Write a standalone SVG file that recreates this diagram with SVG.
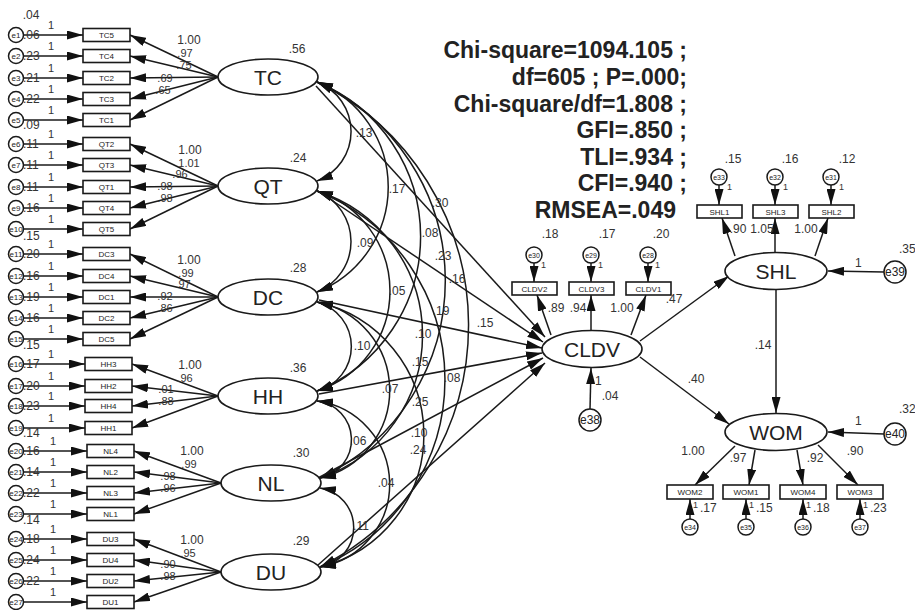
<svg xmlns="http://www.w3.org/2000/svg" width="915" height="610" viewBox="0 0 915 610">
<defs>
<marker id="ah" viewBox="0 0 16 9" refX="16" refY="4.5" markerWidth="16" markerHeight="9" markerUnits="userSpaceOnUse" orient="auto-start-reverse"><path d="M0,0 L16,4.5 L0,9 z" fill="#111"/></marker>
<style>
.c{stroke:#1a1a1a;stroke-width:1.5;fill:none;marker-end:url(#ah)}
.cv{stroke:#1a1a1a;stroke-width:1.5;fill:none;marker-start:url(#ah);marker-end:url(#ah)}
.box{fill:#fff;stroke:#1a1a1a;stroke-width:1.6}
.lat{fill:#fff;stroke:#1a1a1a;stroke-width:1.6}
.err{fill:#fff;stroke:#1a1a1a;stroke-width:1.5}
text{font-family:"Liberation Sans",Arial,sans-serif}
.bt{font-size:8px;text-anchor:middle;fill:#222}
.et{font-size:8px;text-anchor:middle;fill:#222}
.et2{font-size:7px;text-anchor:middle;fill:#222}
.eb{font-size:12px;text-anchor:middle;fill:#222}
.lt{font-size:21px;text-anchor:middle;fill:#222}
.p{font-size:12px;text-anchor:middle;fill:#333}
.pl{font-size:11px;text-anchor:middle;fill:#333}
.ps{font-size:12px;fill:#333}
.one{font-size:11px;text-anchor:middle;fill:#333}
.one8{font-size:9px;fill:#333}
.fit{font-size:23px;font-weight:bold;text-anchor:end;fill:#222}
</style>
</defs>
<rect width="915" height="610" fill="#fff"/>

<g id="connectors">
<path class="c" d="M23.5,35 L83,35"/><path class="c" d="M23.5,56 L83,56"/><path class="c" d="M23.5,78 L83,78"/><path class="c" d="M23.5,99 L83,99"/><path class="c" d="M23.5,120 L83,120"/>
<path class="c" d="M23.5,144 L83,144"/><path class="c" d="M23.5,165 L83,165"/><path class="c" d="M23.5,187 L83,187"/><path class="c" d="M23.5,208 L83,208"/><path class="c" d="M23.5,229 L83,229"/>
<path class="c" d="M23.5,254 L83,254"/><path class="c" d="M23.5,276 L83,276"/><path class="c" d="M23.5,297 L83,297"/><path class="c" d="M23.5,318 L83,318"/><path class="c" d="M23.5,339 L83,339"/>
<path class="c" d="M23.5,364 L85,364"/><path class="c" d="M23.5,386 L85,386"/><path class="c" d="M23.5,406 L85,406"/><path class="c" d="M23.5,428 L85,428"/>
<path class="c" d="M23.5,451 L87,451"/><path class="c" d="M23.5,472 L87,472"/><path class="c" d="M23.5,493 L87,493"/><path class="c" d="M23.5,514 L87,514"/>
<path class="c" d="M23.5,539 L87,539"/><path class="c" d="M23.5,560 L87,560"/><path class="c" d="M23.5,581 L87,581"/><path class="c" d="M23.5,602 L87,602"/>
<path class="c" d="M218,77 L130,35"/><path class="c" d="M218,77 L130,56"/><path class="c" d="M218,77 L130,78"/><path class="c" d="M218,77 L130,99"/><path class="c" d="M218,77 L130,120"/>
<path class="c" d="M218,186 L130,144"/><path class="c" d="M218,186 L130,165"/><path class="c" d="M218,186 L130,187"/><path class="c" d="M218,186 L130,208"/><path class="c" d="M218,186 L130,229"/>
<path class="c" d="M218,297 L130,254"/><path class="c" d="M218,297 L130,276"/><path class="c" d="M218,297 L130,297"/><path class="c" d="M218,297 L130,318"/><path class="c" d="M218,297 L130,339"/>
<path class="c" d="M218,396 L132,364"/><path class="c" d="M218,396 L132,386"/><path class="c" d="M218,396 L132,406"/><path class="c" d="M218,396 L132,428"/>
<path class="c" d="M221,483 L134,451"/><path class="c" d="M221,483 L134,472"/><path class="c" d="M221,483 L134,493"/><path class="c" d="M221,483 L134,514"/>
<path class="c" d="M221,572 L134,539"/><path class="c" d="M221,572 L134,560"/><path class="c" d="M221,572 L134,581"/><path class="c" d="M221,572 L134,602"/>
<path class="cv" d="M317,82 A53,53 0 0 1 317,181"/>
<path class="cv" d="M317,191 A54.5,54.5 0 0 1 317,292"/>
<path class="cv" d="M317,302 A46,46 0 0 1 317,391"/>
<path class="cv" d="M317,401 A39,39 0 0 1 320,478"/>
<path class="cv" d="M320,488 A40,40 0 0 1 320,567"/>
<path class="cv" d="M317,82 A113,113 0 0 1 317,292"/>
<path class="cv" d="M317,191 A105,105 0 0 1 317,391"/>
<path class="cv" d="M317,302 A90,90 0 0 1 320,478"/>
<path class="cv" d="M317,401 A84,84 0 0 1 320,567"/>
<path class="cv" d="M317,82 A167,167 0 0 1 317,391"/>
<path class="cv" d="M317,191 A151,151 0 0 1 320,478"/>
<path class="cv" d="M317,302 A136,136 0 0 1 320,567"/>
<path class="cv" d="M317,82 A218,218 0 0 1 320,478"/>
<path class="cv" d="M317,191 A203,203 0 0 1 320,567"/>
<path class="cv" d="M317,82 A271,271 0 0 1 320,567"/>
<path class="c" d="M316,86 L545,337"/>
<path class="c" d="M318,191 L543,342"/>
<path class="c" d="M319,300 L542,348"/>
<path class="c" d="M319,394 L542,353"/>
<path class="c" d="M318,478 L543,358"/>
<path class="c" d="M318,565 L545,363"/>
<path class="c" d="M551,335 L537,295"/>
<path class="c" d="M591,330 L591,295"/>
<path class="c" d="M631,335 L646,295"/>
<path class="c" d="M534,263 L534,282"/>
<path class="c" d="M591,263 L591,282"/>
<path class="c" d="M648,263 L648,282"/>
<path class="c" d="M590,409 L591,368"/>
<path class="c" d="M640,341 L729,276"/>
<path class="c" d="M640,357 L729,424"/>
<path class="c" d="M776,290 L776,413"/>
<path class="c" d="M884,272 L828,271"/>
<path class="c" d="M884,434 L828,432"/>
<path class="c" d="M735,256 L722,218"/>
<path class="c" d="M775,252.5 L775,218"/>
<path class="c" d="M815,256 L828,218"/>
<path class="c" d="M719,185 L719,205"/>
<path class="c" d="M775,185 L775,205"/>
<path class="c" d="M831,185 L831,205"/>
<path class="c" d="M735,446 L695,485"/>
<path class="c" d="M755,450 L749,485"/>
<path class="c" d="M797,450 L803,485"/>
<path class="c" d="M818,445 L858,485"/>
<path class="c" d="M690,519 L690,499"/>
<path class="c" d="M746,519 L746,499"/>
<path class="c" d="M803,519 L803,499"/>
<path class="c" d="M860,519 L860,499"/>
</g>

<g id="labels">
<text class="ps" x="31" y="19" text-anchor="middle">.04</text>
<text class="ps" x="23" y="39">.06</text><text class="ps" x="23" y="60">.23</text><text class="ps" x="23" y="82">.21</text><text class="ps" x="23" y="103">.22</text><text class="ps" x="23" y="129">.09</text>
<text class="ps" x="23" y="148">.11</text><text class="ps" x="23" y="169">.11</text><text class="ps" x="23" y="191">.11</text><text class="ps" x="23" y="212">.16</text><text class="ps" x="23" y="240">.15</text>
<text class="ps" x="23" y="258">.20</text><text class="ps" x="23" y="280">.16</text><text class="ps" x="23" y="301">.19</text><text class="ps" x="23" y="322">.16</text><text class="ps" x="23" y="349">.15</text>
<text class="ps" x="23" y="368">.17</text><text class="ps" x="23" y="390">.20</text><text class="ps" x="23" y="410">.23</text><text class="ps" x="23" y="437">.14</text>
<text class="ps" x="23" y="455">.16</text><text class="ps" x="23" y="476">.14</text><text class="ps" x="23" y="497">.22</text><text class="ps" x="23" y="524">.14</text>
<text class="ps" x="23" y="543">.18</text><text class="ps" x="23" y="564">.24</text><text class="ps" x="23" y="585">.22</text>
<text class="one" x="51" y="29">1</text><text class="one" x="51" y="50">1</text><text class="one" x="51" y="72">1</text><text class="one" x="51" y="93">1</text><text class="one" x="51" y="114">1</text>
<text class="one" x="51" y="138">1</text><text class="one" x="51" y="159">1</text><text class="one" x="51" y="181">1</text><text class="one" x="51" y="202">1</text><text class="one" x="51" y="223">1</text>
<text class="one" x="51" y="248">1</text><text class="one" x="51" y="270">1</text><text class="one" x="51" y="291">1</text><text class="one" x="51" y="312">1</text><text class="one" x="51" y="333">1</text>
<text class="one" x="51" y="358">1</text><text class="one" x="51" y="380">1</text><text class="one" x="51" y="400">1</text><text class="one" x="51" y="422">1</text>
<text class="one" x="53" y="445">1</text><text class="one" x="53" y="466">1</text><text class="one" x="53" y="487">1</text><text class="one" x="53" y="508">1</text>
<text class="one" x="53" y="533">1</text><text class="one" x="53" y="554">1</text><text class="one" x="53" y="575">1</text><text class="one" x="53" y="596">1</text>
<text class="p" x="189" y="44">1.00</text><text class="pl" x="185" y="57">.97</text><text class="pl" x="184" y="69">.75</text><text class="pl" x="165" y="82">.69</text><text class="pl" x="163" y="94">.65</text>
<text class="p" x="190" y="154">1.00</text><text class="pl" x="189" y="167">1.01</text><text class="pl" x="180" y="178">.96</text><text class="pl" x="165" y="190">.98</text><text class="pl" x="165" y="202">.98</text>
<text class="p" x="189" y="264">1.00</text><text class="pl" x="186" y="277">.99</text><text class="pl" x="183" y="288">.97</text><text class="pl" x="165" y="300">.92</text><text class="pl" x="165" y="312">.86</text>
<text class="p" x="190" y="369">1.00</text><text class="pl" x="185" y="382">.96</text><text class="pl" x="166" y="393">.01</text><text class="pl" x="166" y="405">.88</text>
<text class="p" x="192" y="455">1.00</text><text class="pl" x="189" y="468">.99</text><text class="pl" x="168" y="480">.98</text><text class="pl" x="168" y="492">.96</text>
<text class="p" x="192" y="544">1.00</text><text class="pl" x="188" y="557">.95</text><text class="pl" x="168" y="568">.90</text><text class="pl" x="168" y="580">.98</text>
<text class="p" x="297" y="53">.56</text><text class="p" x="298" y="162">.24</text><text class="p" x="298" y="272">.28</text><text class="p" x="298" y="372">.36</text><text class="p" x="301" y="457">.30</text><text class="p" x="301" y="545">.29</text>
<text class="p" x="364" y="137">.13</text>
<text class="p" x="397" y="193">.17</text>
<text class="p" x="440" y="207">.30</text>
<text class="p" x="430" y="237">.08</text>
<text class="p" x="443" y="260">.23</text>
<text class="p" x="365" y="247">.09</text>
<text class="p" x="457" y="283">.16</text>
<text class="p" x="397" y="295">.05</text>
<text class="p" x="441" y="315">.19</text>
<text class="p" x="485" y="327">.15</text>
<text class="p" x="423" y="338">.10</text>
<text class="p" x="362" y="350">.10</text>
<text class="p" x="420" y="366">.15</text>
<text class="p" x="452" y="382">.08</text>
<text class="p" x="390" y="393">.07</text>
<text class="p" x="420" y="406">.25</text>
<text class="p" x="419" y="437">.10</text>
<text class="p" x="358" y="445">.06</text>
<text class="p" x="418" y="454">.24</text>
<text class="p" x="386" y="487">.04</text>
<text class="p" x="361" y="530">.11</text>
<text class="p" x="550" y="238">.18</text><text class="p" x="607" y="238">.17</text><text class="p" x="661" y="238">.20</text>
<text class="one8" x="541" y="268">1</text><text class="one8" x="598" y="268">1</text><text class="one8" x="655" y="268">1</text>
<text class="p" x="556" y="312">.89</text><text class="p" x="578" y="312">.94</text><text class="p" x="622" y="312">1.00</text>
<text class="p" x="674" y="303">.47</text>
<text class="ps" x="595" y="385">1</text><text class="p" x="610" y="400">.04</text>
<text class="p" x="696" y="383">.40</text>
<text class="p" x="763" y="349">.14</text>
<text class="p" x="733" y="163">.15</text><text class="p" x="790" y="163">.16</text><text class="p" x="847" y="163">.12</text>
<text class="one8" x="727" y="190">1</text><text class="one8" x="783" y="190">1</text><text class="one8" x="839" y="190">1</text>
<text class="p" x="738" y="233">.90</text><text class="p" x="762" y="233">1.05</text><text class="p" x="806" y="233">1.00</text>
<text class="ps" x="855" y="267">1</text><text class="ps" x="899" y="253">.35</text>
<text class="ps" x="855" y="425">1</text><text class="ps" x="899" y="413">.32</text>
<text class="p" x="693" y="455">1.00</text><text class="p" x="738" y="462">.97</text><text class="p" x="815" y="462">.92</text><text class="p" x="855" y="455">.90</text>
<text class="one8" x="693" y="508">1</text><text class="one8" x="749" y="508">1</text><text class="one8" x="806" y="508">1</text><text class="one8" x="863" y="508">1</text>
<text class="ps" x="700" y="512">.17</text><text class="ps" x="756" y="512">.15</text><text class="ps" x="813" y="512">.18</text><text class="ps" x="870" y="512">.23</text>
<text class="fit" x="687" y="58">Chi-square=1094.105 ;</text>
<text class="fit" x="687" y="85">df=605 ; P=.000;</text>
<text class="fit" x="687" y="112">Chi-square/df=1.808 ;</text>
<text class="fit" x="687" y="138">GFI=.850 ;</text>
<text class="fit" x="687" y="165">TLI=.934 ;</text>
<text class="fit" x="687" y="191">CFI=.940 ;</text>
<text class="fit" x="676" y="218">RMSEA=.049</text>
</g>

<g id="e1"><circle class="err" cx="16" cy="35" r="7.5"/><text class="et" x="16" y="38">e1</text></g>
<g id="e2"><circle class="err" cx="16" cy="56" r="7.5"/><text class="et" x="16" y="59">e2</text></g>
<g id="e3"><circle class="err" cx="16" cy="78" r="7.5"/><text class="et" x="16" y="81">e3</text></g>
<g id="e4"><circle class="err" cx="16" cy="99" r="7.5"/><text class="et" x="16" y="102">e4</text></g>
<g id="e5"><circle class="err" cx="16" cy="120" r="7.5"/><text class="et" x="16" y="123">e5</text></g>
<g id="e6"><circle class="err" cx="16" cy="144" r="7.5"/><text class="et" x="16" y="147">e6</text></g>
<g id="e7"><circle class="err" cx="16" cy="165" r="7.5"/><text class="et" x="16" y="168">e7</text></g>
<g id="e8"><circle class="err" cx="16" cy="187" r="7.5"/><text class="et" x="16" y="190">e8</text></g>
<g id="e9"><circle class="err" cx="16" cy="208" r="7.5"/><text class="et" x="16" y="211">e9</text></g>
<g id="e10"><circle class="err" cx="16" cy="229" r="7.5"/><text class="et" x="16" y="232">e10</text></g>
<g id="e11"><circle class="err" cx="16" cy="254" r="7.5"/><text class="et" x="16" y="257">e11</text></g>
<g id="e12"><circle class="err" cx="16" cy="276" r="7.5"/><text class="et" x="16" y="279">e12</text></g>
<g id="e13"><circle class="err" cx="16" cy="297" r="7.5"/><text class="et" x="16" y="300">e13</text></g>
<g id="e14"><circle class="err" cx="16" cy="318" r="7.5"/><text class="et" x="16" y="321">e14</text></g>
<g id="e15"><circle class="err" cx="16" cy="339" r="7.5"/><text class="et" x="16" y="342">e15</text></g>
<g id="e16"><circle class="err" cx="16" cy="364" r="7.5"/><text class="et" x="16" y="367">e16</text></g>
<g id="e17"><circle class="err" cx="16" cy="386" r="7.5"/><text class="et" x="16" y="389">e17</text></g>
<g id="e18"><circle class="err" cx="16" cy="406" r="7.5"/><text class="et" x="16" y="409">e18</text></g>
<g id="e19"><circle class="err" cx="16" cy="428" r="7.5"/><text class="et" x="16" y="431">e19</text></g>
<g id="e20"><circle class="err" cx="16" cy="451" r="7.5"/><text class="et" x="16" y="454">e20</text></g>
<g id="e21"><circle class="err" cx="16" cy="472" r="7.5"/><text class="et" x="16" y="475">e21</text></g>
<g id="e22"><circle class="err" cx="16" cy="493" r="7.5"/><text class="et" x="16" y="496">e22</text></g>
<g id="e23"><circle class="err" cx="16" cy="514" r="7.5"/><text class="et" x="16" y="517">e23</text></g>
<g id="e24"><circle class="err" cx="16" cy="539" r="7.5"/><text class="et" x="16" y="542">e24</text></g>
<g id="e25"><circle class="err" cx="16" cy="560" r="7.5"/><text class="et" x="16" y="563">e25</text></g>
<g id="e26"><circle class="err" cx="16" cy="581" r="7.5"/><text class="et" x="16" y="584">e26</text></g>
<g id="e27"><circle class="err" cx="16" cy="602" r="7.5"/><text class="et" x="16" y="605">e27</text></g>

<g id="TC5"><rect class="box" x="83" y="28.5" width="47" height="13"/><text class="bt" x="106.5" y="38">TC5</text></g>
<g id="TC4"><rect class="box" x="83" y="49.5" width="47" height="13"/><text class="bt" x="106.5" y="59">TC4</text></g>
<g id="TC2"><rect class="box" x="83" y="71.5" width="47" height="13"/><text class="bt" x="106.5" y="81">TC2</text></g>
<g id="TC3"><rect class="box" x="83" y="92.5" width="47" height="13"/><text class="bt" x="106.5" y="102">TC3</text></g>
<g id="TC1"><rect class="box" x="83" y="113.5" width="47" height="13"/><text class="bt" x="106.5" y="123">TC1</text></g>
<g id="QT2"><rect class="box" x="83" y="137.5" width="47" height="13"/><text class="bt" x="106.5" y="147">QT2</text></g>
<g id="QT3"><rect class="box" x="83" y="158.5" width="47" height="13"/><text class="bt" x="106.5" y="168">QT3</text></g>
<g id="QT1"><rect class="box" x="83" y="180.5" width="47" height="13"/><text class="bt" x="106.5" y="190">QT1</text></g>
<g id="QT4"><rect class="box" x="83" y="201.5" width="47" height="13"/><text class="bt" x="106.5" y="211">QT4</text></g>
<g id="QT5"><rect class="box" x="83" y="222.5" width="47" height="13"/><text class="bt" x="106.5" y="232">QT5</text></g>
<g id="DC3"><rect class="box" x="83" y="247.5" width="47" height="13"/><text class="bt" x="106.5" y="257">DC3</text></g>
<g id="DC4"><rect class="box" x="83" y="269.5" width="47" height="13"/><text class="bt" x="106.5" y="279">DC4</text></g>
<g id="DC1"><rect class="box" x="83" y="290.5" width="47" height="13"/><text class="bt" x="106.5" y="300">DC1</text></g>
<g id="DC2"><rect class="box" x="83" y="311.5" width="47" height="13"/><text class="bt" x="106.5" y="321">DC2</text></g>
<g id="DC5"><rect class="box" x="83" y="332.5" width="47" height="13"/><text class="bt" x="106.5" y="342">DC5</text></g>
<g id="HH3"><rect class="box" x="85" y="357.5" width="47" height="13"/><text class="bt" x="108.5" y="367">HH3</text></g>
<g id="HH2"><rect class="box" x="85" y="379.5" width="47" height="13"/><text class="bt" x="108.5" y="389">HH2</text></g>
<g id="HH4"><rect class="box" x="85" y="399.5" width="47" height="13"/><text class="bt" x="108.5" y="409">HH4</text></g>
<g id="HH1"><rect class="box" x="85" y="421.5" width="47" height="13"/><text class="bt" x="108.5" y="431">HH1</text></g>
<g id="NL4"><rect class="box" x="87" y="444.5" width="47" height="13"/><text class="bt" x="110.5" y="454">NL4</text></g>
<g id="NL2"><rect class="box" x="87" y="465.5" width="47" height="13"/><text class="bt" x="110.5" y="475">NL2</text></g>
<g id="NL3"><rect class="box" x="87" y="486.5" width="47" height="13"/><text class="bt" x="110.5" y="496">NL3</text></g>
<g id="NL1"><rect class="box" x="87" y="507.5" width="47" height="13"/><text class="bt" x="110.5" y="517">NL1</text></g>
<g id="DU3"><rect class="box" x="87" y="532.5" width="47" height="13"/><text class="bt" x="110.5" y="542">DU3</text></g>
<g id="DU4"><rect class="box" x="87" y="553.5" width="47" height="13"/><text class="bt" x="110.5" y="563">DU4</text></g>
<g id="DU2"><rect class="box" x="87" y="574.5" width="47" height="13"/><text class="bt" x="110.5" y="584">DU2</text></g>
<g id="DU1"><rect class="box" x="87" y="595.5" width="47" height="13"/><text class="bt" x="110.5" y="605">DU1</text></g>

<g id="TC"><ellipse class="lat" cx="268" cy="77" rx="50" ry="18"/><text class="lt" x="268" y="85">TC</text></g>
<g id="QT"><ellipse class="lat" cx="268" cy="186" rx="50" ry="18"/><text class="lt" x="268" y="194">QT</text></g>
<g id="DC"><ellipse class="lat" cx="268" cy="297" rx="50" ry="18"/><text class="lt" x="268" y="305">DC</text></g>
<g id="HH"><ellipse class="lat" cx="268" cy="396" rx="50" ry="18"/><text class="lt" x="268" y="404">HH</text></g>
<g id="NL"><ellipse class="lat" cx="271" cy="483" rx="50" ry="18"/><text class="lt" x="271" y="491">NL</text></g>
<g id="DU"><ellipse class="lat" cx="271" cy="572" rx="50" ry="18"/><text class="lt" x="271" y="580">DU</text></g>
<g id="CLDV"><ellipse class="lat" cx="592" cy="349" rx="50" ry="18.5"/><text class="lt" x="592" y="357">CLDV</text></g>
<g id="SHL"><ellipse class="lat" cx="776" cy="271" rx="51" ry="18.5"/><text class="lt" x="776" y="279">SHL</text></g>
<g id="WOM"><ellipse class="lat" cx="776" cy="432" rx="51" ry="18.5"/><text class="lt" x="776" y="440">WOM</text></g>

<g id="CLDV2"><rect class="box" x="512" y="282" width="45" height="13"/><text class="bt" x="534.5" y="291.5">CLDV2</text></g>
<g id="CLDV3"><rect class="box" x="569" y="282" width="45" height="13"/><text class="bt" x="591.5" y="291.5">CLDV3</text></g>
<g id="CLDV1"><rect class="box" x="626" y="282" width="45" height="13"/><text class="bt" x="648.5" y="291.5">CLDV1</text></g>
<g id="SHL1"><rect class="box" x="697" y="205" width="45" height="13"/><text class="bt" x="719.5" y="214.5">SHL1</text></g>
<g id="SHL3"><rect class="box" x="753" y="205" width="45" height="13"/><text class="bt" x="775.5" y="214.5">SHL3</text></g>
<g id="SHL2"><rect class="box" x="809" y="205" width="45" height="13"/><text class="bt" x="831.5" y="214.5">SHL2</text></g>
<g id="WOM2"><rect class="box" x="667" y="485" width="46" height="14"/><text class="bt" x="690" y="495">WOM2</text></g>
<g id="WOM1"><rect class="box" x="723" y="485" width="46" height="14"/><text class="bt" x="746" y="495">WOM1</text></g>
<g id="WOM4"><rect class="box" x="780" y="485" width="46" height="14"/><text class="bt" x="803" y="495">WOM4</text></g>
<g id="WOM3"><rect class="box" x="837" y="485" width="46" height="14"/><text class="bt" x="860" y="495">WOM3</text></g>

<g id="e30"><circle class="err" cx="534" cy="255" r="8"/><text class="et2" x="534" y="257.5">e30</text></g>
<g id="e29"><circle class="err" cx="591" cy="255" r="8"/><text class="et2" x="591" y="257.5">e29</text></g>
<g id="e28"><circle class="err" cx="648" cy="255" r="8"/><text class="et2" x="648" y="257.5">e28</text></g>
<g id="e33"><circle class="err" cx="719" cy="177" r="8"/><text class="et2" x="719" y="179.5">e33</text></g>
<g id="e32"><circle class="err" cx="775" cy="177" r="8"/><text class="et2" x="775" y="179.5">e32</text></g>
<g id="e31"><circle class="err" cx="831" cy="177" r="8"/><text class="et2" x="831" y="179.5">e31</text></g>
<g id="e34"><circle class="err" cx="690" cy="527" r="8"/><text class="et2" x="690" y="529.5">e34</text></g>
<g id="e35"><circle class="err" cx="746" cy="527" r="8"/><text class="et2" x="746" y="529.5">e35</text></g>
<g id="e36"><circle class="err" cx="803" cy="527" r="8"/><text class="et2" x="803" y="529.5">e36</text></g>
<g id="e37"><circle class="err" cx="860" cy="527" r="8"/><text class="et2" x="860" y="529.5">e37</text></g>
<g id="e38"><circle class="err" cx="590" cy="420" r="11"/><text class="eb" x="590" y="424">e38</text></g>
<g id="e39"><circle class="err" cx="895" cy="272" r="11"/><text class="eb" x="895" y="276">e39</text></g>
<g id="e40"><circle class="err" cx="895" cy="434" r="11"/><text class="eb" x="895" y="438">e40</text></g>
</svg>
